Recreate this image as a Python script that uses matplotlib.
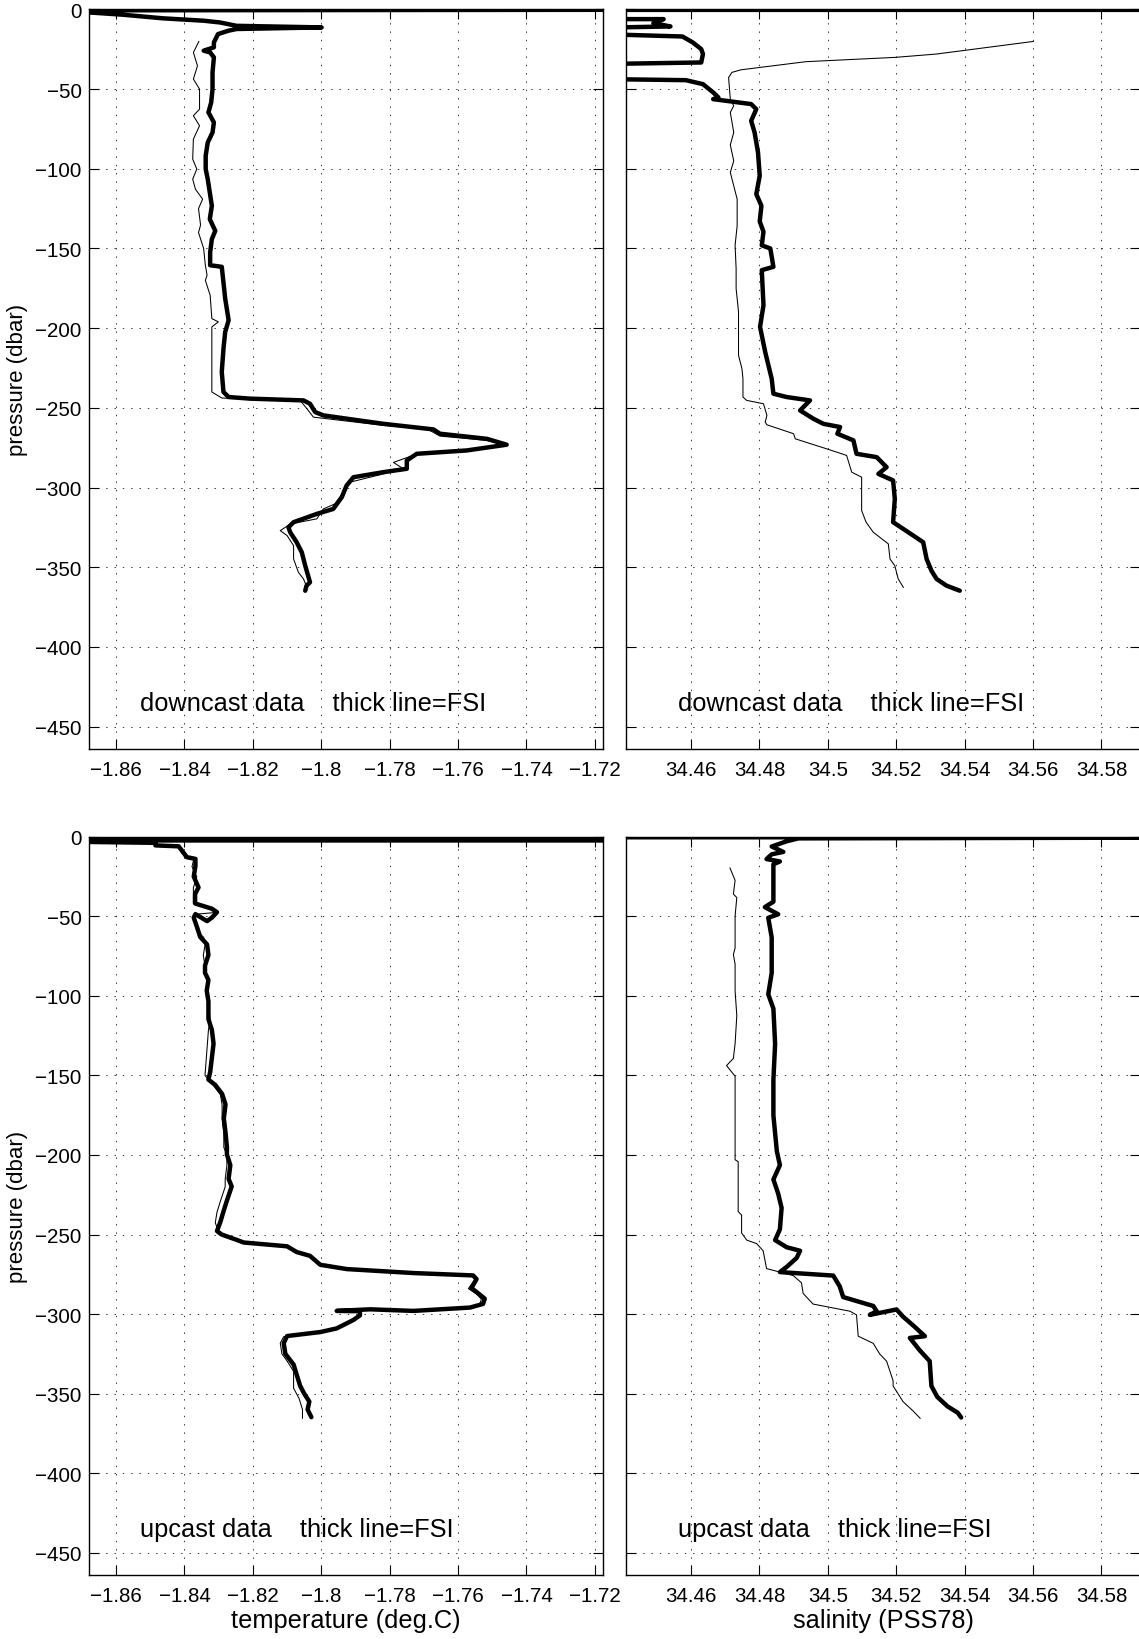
import matplotlib
matplotlib.use("Agg")
import matplotlib.pyplot as plt

plt.rcParams['font.family'] = ['Liberation Sans', 'DejaVu Sans']
plt.rcParams['lines.scale_dashes'] = False

# ---------------- data ----------------
# downcast temperature, FSI (thick)
dn_T_fsi = [-1.60, -1.875, -1.868, -1.8582, -1.8463, -1.8344, -1.8296, -1.8248, -1.7999, -1.8248, -1.8272,
            -1.8302, -1.8314, -1.8314, -1.8344, -1.8325, -1.8314, -1.8318, -1.8318, -1.8322, -1.8330,
            -1.8314, -1.8318, -1.8332, -1.8338, -1.8338, -1.8332, -1.8326, -1.8320, -1.8326, -1.8310,
            -1.8320, -1.8325, -1.8325, -1.8291, -1.8281, -1.8271, -1.8281, -1.8286, -1.8291, -1.8286,
            -1.8271, -1.8208, -1.8052, -1.8033, -1.8018, -1.7994, -1.7818, -1.7672, -1.7653, -1.7516,
            -1.7458, -1.7575, -1.7721, -1.7750, -1.7750, -1.7818, -1.7906, -1.7926, -1.7940, -1.7965,
            -1.8013, -1.8081, -1.8096, -1.8091, -1.8072, -1.8057, -1.8047, -1.8033, -1.8043, -1.8047]
dn_P_fsi = [0.0, -0.6, -1.9, -3.3, -5.6, -7.1, -8.2, -10.3, -11.3, -12.3, -13.4,
            -15.5, -20.7, -23.8, -25.9, -27.0, -30.1, -39.5, -50.0, -58.4, -64.6,
            -70.9, -77.2, -83.5, -91.8, -100.2, -106.5, -114.9, -123.2, -131.6, -138.9,
            -144.1, -152.5, -160.5, -161.5, -181.4, -195.0, -202.4, -212.8, -227.5, -240.0,
            -243.2, -244.2, -245.3, -247.4, -252.6, -254.7, -260.0, -263.5, -266.2, -269.4,
            -273.1, -276.7, -278.8, -283.0, -288.2, -290.3, -293.5, -298.7, -306.0, -313.4,
            -316.5, -321.7, -324.9, -328.0, -334.3, -340.6, -349.0, -359.4, -361.5, -364.7]

# downcast temperature, ship CTD (thin)
dn_T_ctd = [-1.8358, -1.8374, -1.8362, -1.8374, -1.8356, -1.8356, -1.8374, -1.8356, -1.8374, -1.8376,
            -1.8364, -1.8376, -1.8368, -1.8347, -1.8359, -1.8353, -1.8359, -1.8344, -1.8339, -1.8334,
            -1.8339, -1.8325, -1.8320, -1.8301, -1.8320, -1.8320, -1.8291, -1.8062, -1.8042, -1.8023,
            -1.7818, -1.7691, -1.7653, -1.7516, -1.7467, -1.7575, -1.7721, -1.7789, -1.7760, -1.7818,
            -1.7916, -1.7935, -1.7960, -1.7994, -1.8013, -1.8090, -1.8120, -1.8100, -1.8081, -1.8081,
            -1.8067, -1.8052, -1.8042]
dn_P_ctd = [-20.1, -27.0, -35.4, -43.7, -50.0, -62.6, -66.7, -73.0, -81.4, -93.9,
            -100.2, -106.5, -112.8, -119.0, -125.0, -135.3, -140.0, -150.0, -160.5, -166.8,
            -170.0, -179.3, -194.0, -196.0, -199.2, -240.0, -243.8, -245.3, -250.5, -255.8,
            -261.0, -263.1, -267.7, -270.4, -273.1, -277.0, -279.0, -284.2, -288.2, -291.4,
            -296.6, -302.9, -310.2, -313.4, -319.6, -322.8, -327.0, -330.1, -336.4, -344.8,
            -353.1, -357.3, -362.6]

# downcast salinity, FSI (thick)
dn_S_fsi = [34.65, 34.40, 34.40, 34.452, 34.449, 34.454, 34.40, 34.40, 34.4575, 34.4605,
            34.463, 34.4635, 34.463, 34.40, 34.40, 34.4585, 34.4635, 34.4665, 34.468, 34.4665,
            34.4776, 34.4791, 34.4776, 34.4786, 34.4796, 34.4801, 34.4791, 34.4806, 34.4801, 34.4812,
            34.4807, 34.4832, 34.4841, 34.4807, 34.4812, 34.4802, 34.4817, 34.4836, 34.4841, 34.4880,
            34.4948, 34.4919, 34.4958, 34.4987, 34.5036, 34.5028, 34.5075, 34.5084, 34.5143, 34.5172,
            34.5148, 34.5191, 34.5196, 34.5191, 34.5250, 34.5279, 34.5289, 34.5303, 34.5318, 34.5347,
            34.5386]
dn_PS_fsi = [-0.3, -0.3, -6.1, -6.1, -8.6, -10.7, -12.8, -13.4, -17.0, -20.7,
             -24.9, -28.0, -33.3, -35.4, -42.7, -44.4, -46.9, -52.1, -55.2, -56.3,
             -59.4, -62.6, -69.9, -77.2, -89.7, -104.4, -115.9, -123.2, -133.0, -139.5,
             -148.0, -150.0, -161.5, -163.6, -185.6, -199.2, -214.9, -231.7, -241.1, -243.2,
             -245.3, -251.6, -256.8, -260.0, -262.0, -266.2, -270.4, -278.8, -280.9, -287.2,
             -291.4, -295.5, -307.1, -321.7, -330.1, -334.3, -344.8, -352.1, -357.3, -361.5,
             -364.7]

# downcast salinity, ship CTD (thin)
dn_S_ctd = [34.5601, 34.5318, 34.5197, 34.4936, 34.4746, 34.4720, 34.4710, 34.4715, 34.4725, 34.4715,
            34.4725, 34.4715, 34.4725, 34.4715, 34.4735, 34.4735, 34.4729, 34.4732, 34.4732, 34.4739,
            34.4739, 34.4749, 34.4752, 34.4752, 34.4763, 34.4812, 34.4822, 34.4817, 34.4822, 34.4900,
            34.4905, 34.4997, 34.5055, 34.5070, 34.5099, 34.5099, 34.5112, 34.5133, 34.5177, 34.5182,
            34.5196, 34.5206, 34.5221]
dn_PS_ctd = [-20.1, -28.0, -30.1, -32.8, -37.9, -39.5, -42.7, -56.3, -60.5, -64.6,
             -77.2, -85.0, -95.0, -102.3, -119.0, -135.8, -148.0, -162.6, -175.1, -189.8,
             -217.0, -225.4, -231.7, -243.2, -245.3, -247.4, -254.7, -258.9, -260.6, -266.2,
             -269.4, -275.7, -279.8, -290.3, -293.5, -314.4, -321.7, -328.0, -335.3, -344.8,
             -349.0, -357.3, -362.6]

# upcast temperature, FSI (thick)
up_T_fsi = [-1.60, -1.90, -1.8485, -1.8485, -1.8417, -1.8393, -1.8368, -1.8368, -1.8373, -1.8359,
            -1.8369, -1.8369, -1.8320, -1.8305, -1.8320, -1.8334, -1.8368, -1.8373, -1.8364, -1.8354,
            -1.8334, -1.8330, -1.8340, -1.8340, -1.8330, -1.8335, -1.8330, -1.8330, -1.8320, -1.8315,
            -1.8320, -1.8325, -1.8330, -1.8310, -1.8290, -1.8280, -1.8285, -1.8280, -1.8276, -1.8276,
            -1.8266, -1.8271, -1.8262, -1.8276, -1.8286, -1.8295, -1.8305, -1.8291, -1.8247, -1.8227,
            -1.8100, -1.8072, -1.8033, -1.8003, -1.7926, -1.7731, -1.7556, -1.7546, -1.7561, -1.7541,
            -1.7522, -1.7527, -1.7565, -1.7731, -1.7857, -1.7955, -1.7887, -1.7887, -1.7906, -1.7955,
            -1.8003, -1.8100, -1.8110, -1.8105, -1.8081, -1.8062, -1.8050, -1.8035, -1.8040, -1.8029]
up_P_fsi = [-2.3, -2.3, -3.8, -5.4, -6.0, -12.8, -13.9, -18.4, -25.0, -31.8,
            -36.0, -41.9, -45.2, -47.4, -50.8, -53.0, -48.6, -50.8, -56.4, -63.0,
            -67.6, -74.3, -81.0, -85.5, -90.0, -96.7, -103.4, -114.6, -121.3, -130.0,
            -139.0, -148.0, -152.6, -156.0, -161.6, -168.3, -177.0, -186.0, -195.0, -199.6,
            -206.4, -215.0, -219.8, -228.7, -235.5, -242.0, -247.8, -250.0, -253.4, -255.0,
            -257.4, -261.0, -263.4, -269.0, -271.7, -274.2, -275.7, -278.0, -283.6, -287.0,
            -290.3, -293.6, -295.9, -298.0, -297.0, -298.0, -298.2, -300.8, -303.7, -309.0,
            -311.3, -313.8, -318.3, -325.0, -331.7, -345.0, -350.0, -355.0, -360.0, -364.8]

# upcast temperature, ship CTD (thin)
up_T_ctd = [-1.60, -1.90, -1.8490, -1.8485, -1.8420, -1.8398, -1.8373, -1.8378, -1.8364, -1.8374,
            -1.8374, -1.8325, -1.8310, -1.8374, -1.8369, -1.8364, -1.8359, -1.8344, -1.8340, -1.8345,
            -1.8340, -1.8335, -1.8335, -1.8330, -1.8325, -1.8330, -1.8340, -1.8315, -1.8295, -1.8290,
            -1.8290, -1.8285, -1.8285, -1.8276, -1.8276, -1.8281, -1.8281, -1.8295, -1.8305, -1.8310,
            -1.8296, -1.8250, -1.8230, -1.8100, -1.8068, -1.8033, -1.8003, -1.7926, -1.7731, -1.7560,
            -1.7551, -1.7570, -1.7546, -1.7532, -1.7537, -1.7575, -1.7731, -1.7860, -1.7950, -1.7890,
            -1.7892, -1.7911, -1.7960, -1.8008, -1.8110, -1.8120, -1.8115, -1.8100, -1.8081, -1.8081,
            -1.8065, -1.8055, -1.8055]
up_P_ctd = [-1.0, -1.0, -4.0, -5.6, -6.3, -13.0, -14.2, -18.8, -25.2, -32.0,
            -42.0, -45.4, -47.6, -48.8, -51.0, -56.6, -60.0, -63.2, -68.0, -74.5,
            -81.2, -90.2, -97.0, -103.6, -115.0, -121.5, -150.0, -156.4, -162.0, -168.5,
            -177.2, -186.2, -195.2, -200.0, -206.6, -215.2, -220.0, -229.0, -236.0, -242.6,
            -250.5, -253.8, -255.4, -257.8, -261.4, -263.8, -269.4, -272.0, -274.5, -276.0,
            -278.4, -284.0, -287.4, -290.6, -294.0, -296.2, -298.3, -297.4, -298.3, -298.5,
            -301.0, -304.0, -309.3, -311.6, -314.2, -318.3, -325.0, -329.5, -336.0, -346.6,
            -353.0, -360.0, -365.5]

# upcast salinity, FSI (thick)
up_S_fsi = [34.40, 34.65, 34.4914, 34.4880, 34.4836, 34.4870, 34.4836, 34.4821, 34.4860, 34.4841,
            34.4841, 34.4841, 34.4816, 34.4855, 34.4826, 34.4836, 34.4836, 34.4826, 34.4841, 34.4846,
            34.4841, 34.4841, 34.4851, 34.4860, 34.4841, 34.4855, 34.4865, 34.4860, 34.4846, 34.4880,
            34.4919, 34.4909, 34.4880, 34.4860, 34.5016, 34.5035, 34.5045, 34.5133, 34.5143, 34.5123,
            34.5201, 34.5220, 34.5250, 34.5284, 34.5240, 34.5269, 34.5298, 34.5303, 34.5320, 34.5350,
            34.5380, 34.5390]
up_PS_fsi = [-0.3, -0.3, -1.0, -2.8, -6.1, -9.5, -11.0, -14.0, -15.5, -17.3,
             -29.6, -40.8, -44.2, -48.7, -50.9, -63.2, -85.6, -99.0, -108.0, -130.3,
             -152.7, -175.1, -197.5, -206.4, -215.4, -224.3, -233.3, -246.7, -253.5, -258.0,
             -260.2, -264.7, -270.3, -273.6, -275.8, -282.6, -289.3, -294.9, -298.2, -300.5,
             -297.1, -301.6, -307.2, -313.9, -315.0, -322.8, -329.6, -345.2, -352.0, -358.0,
             -362.0, -365.0]

# upcast salinity, ship CTD (thin)
up_S_ctd = [34.4714, 34.4729, 34.4724, 34.4734, 34.4729, 34.4729, 34.4724, 34.4729, 34.4729, 34.4734,
            34.4729, 34.4724, 34.4704, 34.4729, 34.4729, 34.4729, 34.4738, 34.4738, 34.4748, 34.4748,
            34.4763, 34.4792, 34.4811, 34.4821, 34.4860, 34.4899, 34.4923, 34.4928, 34.4957, 34.5065,
            34.5084, 34.5089, 34.5133, 34.5152, 34.5172, 34.5191, 34.5191, 34.5220, 34.5250, 34.5270]
up_PS_ctd = [-19.6, -27.4, -36.0, -38.2, -49.8, -69.9, -74.0, -80.0, -96.8, -112.4,
             -130.0, -139.3, -143.8, -150.5, -188.5, -203.0, -204.2, -235.5, -237.8, -249.0,
             -253.5, -255.7, -260.2, -271.4, -273.6, -275.8, -280.3, -287.0, -293.7, -298.2,
             -300.5, -313.9, -318.4, -325.1, -329.6, -341.9, -345.2, -355.0, -361.0, -365.5]

T_ticks = [-1.86, -1.84, -1.82, -1.8, -1.78, -1.76, -1.74, -1.72]
T_ticklabels = ['\u22121.86', '\u22121.84', '\u22121.82', '\u22121.8', '\u22121.78', '\u22121.76', '\u22121.74', '\u22121.72']
S_ticks = [34.46, 34.48, 34.5, 34.52, 34.54, 34.56, 34.58]
S_ticklabels = ['34.46', '34.48', '34.5', '34.52', '34.54', '34.56', '34.58']
P_ticks = [0, -50, -100, -150, -200, -250, -300, -350, -400, -450]
P_ticklabels = ['0', '\u221250', '\u2212100', '\u2212150', '\u2212200', '\u2212250', '\u2212300', '\u2212350', '\u2212400', '\u2212450']

T_lim = (-1.868, -1.7177)
S_lim = (34.441, 34.5913)
P_lim = (-464, 0)

# ---------------- figure ----------------
W, H = 1139, 1640
fig = plt.figure(figsize=(W / 100, H / 100), dpi=100)

pos = {
    'tl': [0.0779, 0.54268, 0.4513, 0.45098],
    'tr': [0.5496, 0.54268, 0.4513, 0.45098],
    'bl': [0.0779, 0.03902, 0.4513, 0.45013],
    'br': [0.5496, 0.03902, 0.4513, 0.45013],
}

TICK_FS = 14.8
TEXT_FS = 18.3
XLABEL_FS = 18.3
YLABEL_FS = 16.0
THICK = 3.2
THIN = 0.75


def style(ax, xticks, xlabels, xlim, show_ylabels):
    ax.set_xlim(*xlim)
    ax.set_ylim(*P_lim)
    ax.set_xticks(xticks)
    ax.set_xticklabels(xlabels)
    ax.set_yticks(P_ticks)
    if show_ylabels:
        ax.set_yticklabels(P_ticklabels)
    else:
        ax.set_yticklabels([])
    ax.tick_params(axis='both', which='major', direction='in', length=7, width=0.8,
                   top=True, right=True, labelsize=TICK_FS, colors='black')
    ax.tick_params(axis='x', pad=8)
    ax.tick_params(axis='y', pad=5)
    ax.grid(True, color='black', linestyle=(0, (1.0, 5.0)), linewidth=0.7, alpha=0.8)
    for s in ax.spines.values():
        s.set_linewidth(1.0)
        s.set_color('black')
    ax.set_axisbelow(True)


def add_ylabel(ax):
    ax.set_ylabel('pressure (dbar)', fontsize=YLABEL_FS)
    ax.yaxis.set_label_coords(-0.118, 0.5)


ax_tl = fig.add_axes(pos['tl'])
ax_tl.plot(dn_T_ctd, dn_P_ctd, color='black', lw=THIN)
ax_tl.plot(dn_T_fsi, dn_P_fsi, color='black', lw=THICK, solid_joinstyle='round', solid_capstyle='round')
style(ax_tl, T_ticks, T_ticklabels, T_lim, True)
add_ylabel(ax_tl)
ax_tl.text(-1.853, -435, 'downcast data    thick line=FSI', fontsize=TEXT_FS, va='center', ha='left')

ax_tr = fig.add_axes(pos['tr'])
ax_tr.plot(dn_S_ctd, dn_PS_ctd, color='black', lw=THIN)
ax_tr.plot(dn_S_fsi, dn_PS_fsi, color='black', lw=THICK, solid_joinstyle='round', solid_capstyle='round')
style(ax_tr, S_ticks, S_ticklabels, S_lim, False)
ax_tr.text(34.4562, -435, 'downcast data    thick line=FSI', fontsize=TEXT_FS, va='center', ha='left')

ax_bl = fig.add_axes(pos['bl'])
ax_bl.plot(up_T_ctd, up_P_ctd, color='black', lw=THIN)
ax_bl.plot(up_T_fsi, up_P_fsi, color='black', lw=THICK, solid_joinstyle='round', solid_capstyle='round')
style(ax_bl, T_ticks, T_ticklabels, T_lim, True)
add_ylabel(ax_bl)
ax_bl.set_xlabel('temperature (deg.C)', fontsize=XLABEL_FS, labelpad=2)
ax_bl.text(-1.853, -435, 'upcast data    thick line=FSI', fontsize=TEXT_FS, va='center', ha='left')

ax_br = fig.add_axes(pos['br'])
ax_br.plot(up_S_ctd, up_PS_ctd, color='black', lw=THIN)
ax_br.plot(up_S_fsi, up_PS_fsi, color='black', lw=THICK, solid_joinstyle='round', solid_capstyle='round')
style(ax_br, S_ticks, S_ticklabels, S_lim, False)
ax_br.set_xlabel('salinity (PSS78)', fontsize=XLABEL_FS, labelpad=2)
ax_br.text(34.4562, -435, 'upcast data    thick line=FSI', fontsize=TEXT_FS, va='center', ha='left')

fig.savefig('out.png', dpi=100, facecolor='white')
